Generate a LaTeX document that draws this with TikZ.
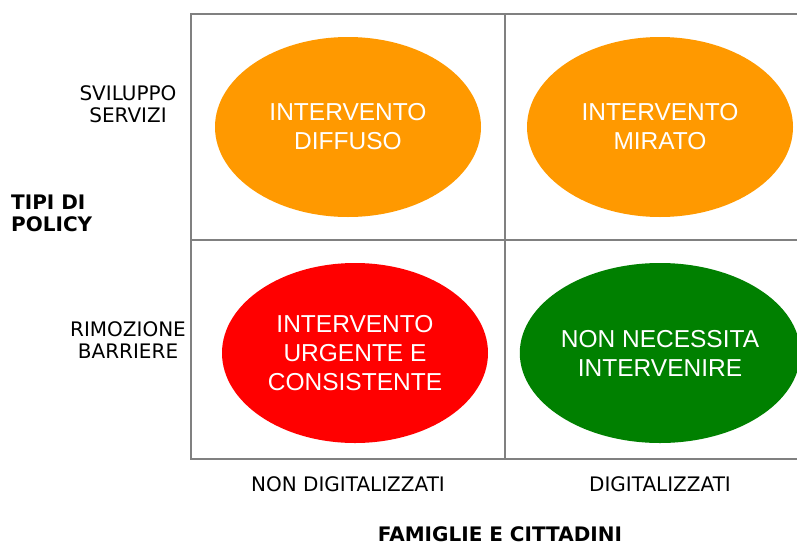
\documentclass[tikz,border=0pt]{standalone}
\usepackage{fontspec}
\setmainfont{Liberation Sans}
\newfontfamily\tah{DejaVu Sans}
\usetikzlibrary{shapes.geometric}
\definecolor{orng}{RGB}{255,153,0}
\definecolor{rd}{RGB}{255,0,0}
\definecolor{grn}{RGB}{0,128,0}
\definecolor{gridc}{RGB}{128,128,128}
\begin{document}
\begin{tikzpicture}[x=1pt,y=-1pt,
  blob/.style={ellipse, minimum width=266pt, minimum height=180pt, inner sep=0pt, text=white, align=center,
    font=\fontsize{24.5}{29}\selectfont},
  lab/.style={align=center, font=\tah\fontsize{20}{22}\selectfont, text=black, inner sep=0pt},
  blab/.style={font=\tah\bfseries\fontsize{20}{22}\selectfont, text=black, inner sep=0pt},
  gline/.style={draw=gridc, line width=1.3pt}]
\useasboundingbox (0,0) rectangle (797,546);
\coordinate (tl) at (191,14);
\coordinate (tr) at (797,14);
\coordinate (bl) at (191,459);
\coordinate (br) at (797,459);
\coordinate (mt) at (505,14);
\coordinate (mb) at (505,459);
\coordinate (ml) at (191,240);
\coordinate (mr) at (797,240);
\draw[gline] (tr) -- (tl) -- (bl) -- (br);
\draw[gline] (mt) -- (mb);
\draw[gline] (ml) -- (mr);
\node[blob, fill=orng] (e1) at (348,127) {INTERVENTO\\DIFFUSO};
\node[blob, fill=orng] (e2) at (660,127) {INTERVENTO\\MIRATO};
\node[blob, fill=rd] (e3) at (355,353) {INTERVENTO\\URGENTE E\\CONSISTENTE};
\node[blob, fill=grn] (e4) at (660,353) {NON NECESSITA\\INTERVENIRE};
\node[lab] (sv) at (128,104) {SVILUPPO\\SERVIZI};
\node[lab] (rb) at (128,340) {RIMOZIONE\\BARRIERE};
\node[blab, align=left, anchor=west] (tp) at (11,213) {TIPI DI\\POLICY};
\node[lab] (nd) at (348,484) {NON DIGITALIZZATI};
\node[lab] (dg) at (660,484) {DIGITALIZZATI};
\node[blab, anchor=base, text depth=0pt] (fc) at (500,541) {FAMIGLIE E CITTADINI};
\end{tikzpicture}
\end{document}
